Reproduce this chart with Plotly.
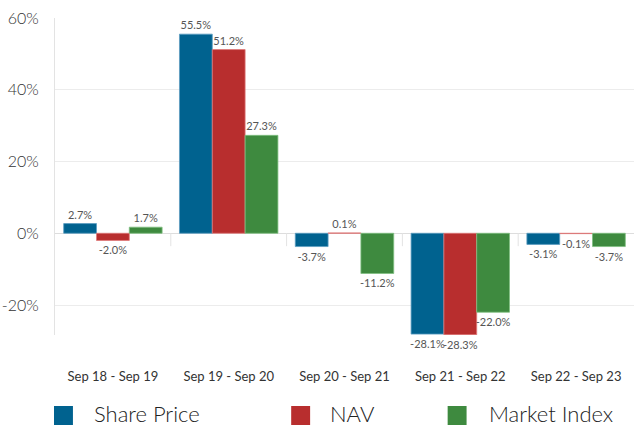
import plotly.graph_objects as go

categories = ["Sep 18 - Sep 19", "Sep 19 - Sep 20", "Sep 20 - Sep 21", "Sep 21 - Sep 22", "Sep 22 - Sep 23"]
share_price = [2.7, 55.5, -3.7, -28.1, -3.1]
nav = [-2.0, 51.2, 0.1, -28.3, -0.1]
market_index = [1.7, 27.3, -11.2, -22.0, -3.7]

series_names = ["Share Price", "NAV", "Market Index"]
series_values = [share_price, nav, market_index]
series_colors = ["#00628f", "#b82e2e", "#3e8a3f"]
series_edges = ["#5a9cc0", "#e07a7a", "#7fbf80"]

y_ticks = [-20, 0, 20, 40, 60]
y_tick_labels = ["-20%", "0%", "20%", "40%", "60%"]

FONT = "Lato, 'Open Sans', sans-serif"

W, H = 636, 427
ML, MR, MT, MB = 53, 2, 18, 92
PW, PH = W - ML - MR, H - MT - MB


def px_x(p):
    return (p - ML) / PW


def px_y(p):
    return (H - MB - p) / PH


fig = go.Figure()
for name, vals, col, edge in zip(series_names, series_values, series_colors, series_edges):
    fig.add_trace(go.Bar(
        x=categories, y=vals, name=name,
        marker=dict(color=col, line=dict(color=edge, width=0.8)),
        text=[f"{v:.1f}%" for v in vals],
        textposition="outside",
        textfont=dict(size=11, color="#555555", family=FONT),
        constraintext="none",
        cliponaxis=False,
        showlegend=False,
    ))

shapes = []
# category dividers hanging below the zero line
for i in range(1, len(categories)):
    shapes.append(dict(type="line", xref="x", yref="y", x0=i - 0.5, x1=i - 0.5,
                       y0=0, y1=-3.6, line=dict(color="#e3e3e3", width=1)))

# manual legend
legend_sq_x = [52, 290, 447]
legend_txt_x = [91, 328, 487]
annotations = []
for name, col, sx, tx in zip(series_names, series_colors, legend_sq_x, legend_txt_x):
    shapes.append(dict(type="rect", xref="paper", yref="paper",
                       x0=px_x(sx), x1=px_x(sx + 19), y0=px_y(406), y1=px_y(425),
                       fillcolor=col, line=dict(width=0)))
    annotations.append(dict(xref="paper", yref="paper", x=px_x(tx), y=px_y(413.5),
                            xanchor="left", yanchor="middle", text=name, showarrow=False,
                            borderpad=0,
                            font=dict(size=22, color="#222222", family=FONT, weight=300)))

fig.update_layout(
    width=W, height=H,
    margin=dict(l=ML, r=MR, t=MT, b=MB),
    paper_bgcolor="white", plot_bgcolor="white",
    barmode="group", bargap=0.15, bargroupgap=0,
    font=dict(family=FONT, color="#333333"),
    shapes=shapes, annotations=annotations,
    showlegend=False,
    xaxis=dict(range=[-0.5, 4.5], showgrid=False, showline=False, zeroline=False,
               ticks="", ticklabelstandoff=32,
               tickfont=dict(size=13, color="#333333", family=FONT)),
    yaxis=dict(range=[-28.35, 60], tickvals=y_ticks, ticktext=y_tick_labels,
               showgrid=True, gridcolor="#ececec", gridwidth=1,
               zeroline=True, zerolinecolor="#dddddd", zerolinewidth=1,
               showline=True, linecolor="#e3e3e3", linewidth=1,
               ticks="", ticklabelstandoff=12,
               tickfont=dict(size=16, color="#333333", family=FONT, weight=300)),
)

fig.write_html("out.html", config={"displayModeBar": False},
               post_script="document.body.style.margin='0';document.body.style.padding='0';")
